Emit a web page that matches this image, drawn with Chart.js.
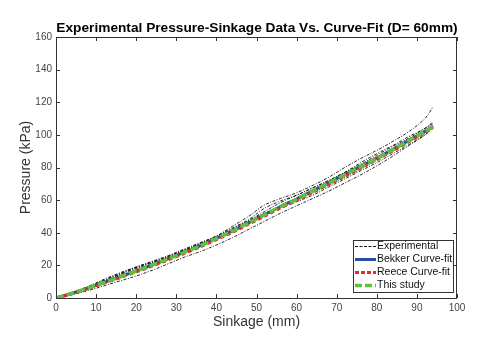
<!DOCTYPE html>
<html>
<head>
<meta charset="utf-8">
<script src="https://cdn.jsdelivr.net/npm/chart.js@4"></script>
<style>
  html, body { margin: 0; padding: 0; background: #fff; }
  canvas { display: block; }
</style>
</head>
<body>
<canvas id="chart" width="502" height="341"></canvas>
<script>
// sinkage (mm)
const sinkage = [0, 4, 8, 12, 16, 20, 24, 28, 32, 36, 40, 44, 48, 52, 56, 60, 64, 68, 72, 76, 80, 84, 88, 92, 94];

// experimental runs (kPa)
const exp1 = [0, 3.5, 7, 11, 15, 19, 22.5, 26, 30, 34, 38, 44, 50, 57, 61, 64.5, 69, 74, 80, 85.5, 90.5, 96, 102, 110, 117];
const exp2 = [0, 3, 6.5, 10.5, 14.5, 18.5, 22, 25, 29, 33.5, 38, 43, 48, 55, 59.5, 63, 67.5, 72, 77, 83, 88.5, 93.5, 99, 104, 108];
const exp3 = [0, 3.2, 7, 11.5, 15.5, 19, 22, 25.5, 29.5, 33, 37, 42, 46.5, 51, 56, 60, 64.5, 69, 74, 79, 84.5, 90, 95.5, 101, 106];
const exp4 = [0, 2.5, 5.5, 9, 12.5, 16, 19.5, 23.5, 27.5, 31.5, 36, 41, 47, 52, 55.5, 59, 63, 68, 73, 78, 83, 88.5, 94, 100, 104];
const exp5 = [0, 3, 6.5, 10.5, 14.5, 18, 21.5, 25.5, 29.5, 33.5, 37.5, 42.5, 47.5, 53, 58.5, 63, 67.5, 72, 77, 82, 87.5, 93, 98, 104, 107];
const exp6 = [0, 2, 4.5, 7.5, 10.5, 13.5, 17, 21, 25, 28.5, 32.5, 37, 42, 47, 52, 56.5, 61, 65.5, 70.5, 75.5, 81, 87, 93.5, 100, 105];

// curve fits (kPa)
const bekker = [0, 2.9, 6.1, 9.6, 13.1, 16.6, 20.3, 24.1, 28.1, 32.1, 36.6, 41.1, 46.1, 51.1, 56.1, 60.7, 65.7, 70.7, 75.7, 80.7, 85.8, 91.2, 96.7, 102.2, 105.3];
const reece = [0, 2.6, 5.7, 9.1, 12.5, 16, 19.6, 23.4, 27.3, 31.4, 35.8, 40.3, 45.2, 50.2, 55.2, 59.8, 64.7, 69.7, 74.7, 79.7, 84.8, 90.2, 95.8, 101.4, 104.6];
const thisStudy = [0, 2.8, 6, 9.5, 13, 16.5, 20.2, 24, 28, 32, 36.5, 41, 46, 51, 56, 60.5, 65.5, 70.5, 75.5, 80.5, 85.5, 91, 96.5, 102, 105];

const xTicks = [0, 10, 20, 30, 40, 50, 60, 70, 80, 90, 100];
const yTicks = [0, 20, 40, 60, 80, 100, 120, 140, 160];

const titleText = 'Experimental Pressure-Sinkage Data Vs. Curve-Fit (D= 60mm)';
const legendLabels = ['Experimental', 'Bekker Curve-fit', 'Reece Curve-fit', 'This study'];

const FONT = '"Liberation Sans", Arial, Helvetica, sans-serif';

function pts(ys) {
    return sinkage.map((x, i) => ({ x: x, y: ys[i] }));
}

function expSet(ys) {
    return {
        data: pts(ys),
        borderColor: '#111',
        borderWidth: 0.9,
        borderDash: [3, 1.5, 1, 1.5],
        pointRadius: 0,
        tension: 0.35,
        order: 4
    };
}

// title, box with inward ticks, legend
const decor = {
    id: 'decor',
    afterDatasetsDraw(chart) {
        const c = chart.ctx;
        const a = chart.chartArea;
        const xs = chart.scales.x, ys = chart.scales.y;
        c.save();
        c.strokeStyle = '#333';
        c.lineWidth = 1;
        c.strokeRect(a.left + 0.5, a.top + 0.5, a.right - a.left - 1, a.bottom - a.top);
        c.beginPath();
        xTicks.forEach(v => {
            const px = Math.round(xs.getPixelForValue(v)) + 0.5;
            c.moveTo(px, a.bottom); c.lineTo(px, a.bottom - 4);
            c.moveTo(px, a.top); c.lineTo(px, a.top + 4);
        });
        yTicks.forEach(v => {
            const py = Math.round(ys.getPixelForValue(v)) + 0.5;
            c.moveTo(a.left, py); c.lineTo(a.left + 4, py);
            c.moveTo(a.right, py); c.lineTo(a.right - 4, py);
        });
        c.stroke();

        // title
        c.fillStyle = '#000';
        c.font = 'bold 13.7px ' + FONT;
        c.textAlign = 'center';
        c.textBaseline = 'middle';
        c.fillText(titleText, (a.left + a.right) / 2 + 0.5, 28);

        // legend
        const lx = a.right - 104, lw = 100, ly = a.bottom - 58, lh = 52;
        c.fillStyle = '#fff';
        c.fillRect(lx, ly, lw, lh);
        c.strokeStyle = '#333';
        c.strokeRect(lx + 0.5, ly + 0.5, lw, lh);
        const styles = [
            { color: '#111', width: 1, dash: [3, 1.5] },
            { color: '#2a4ea6', width: 3, dash: [] },
            { color: '#e8262b', width: 3, dash: [4, 2] },
            { color: '#5cc23a', width: 3.5, dash: [7, 3] }
        ];
        c.font = '10.5px ' + FONT;
        c.textAlign = 'left';
        legendLabels.forEach((t, i) => {
            const y = ly + 6.5 + i * 13;
            const s = styles[i];
            c.beginPath();
            c.strokeStyle = s.color;
            c.lineWidth = s.width;
            c.setLineDash(s.dash);
            c.moveTo(lx + 2, y);
            c.lineTo(lx + 23, y);
            c.stroke();
            c.setLineDash([]);
            c.fillStyle = '#111';
            c.fillText(t, lx + 24, y);
        });
        c.restore();
    }
};

const ctx = document.getElementById('chart').getContext('2d');
const chart = new Chart(ctx, {
    type: 'line',
    data: {
        datasets: [
            {
                label: legendLabels[3],
                data: pts(thisStudy),
                borderColor: '#5cc23a',
                borderWidth: 3.5,
                borderDash: [8, 3],
                pointRadius: 0,
                tension: 0.3,
                order: 1
            },
            {
                label: legendLabels[2],
                data: pts(reece),
                borderColor: '#e8262b',
                borderWidth: 3,
                borderDash: [4, 3],
                pointRadius: 0,
                tension: 0.3,
                order: 2
            },
            {
                label: legendLabels[1],
                data: pts(bekker),
                borderColor: '#2a4ea6',
                borderWidth: 3,
                pointRadius: 0,
                tension: 0.3,
                order: 3
            },
            expSet(exp1),
            expSet(exp2),
            expSet(exp3),
            expSet(exp4),
            expSet(exp5),
            expSet(exp6)
        ]
    },
    options: {
        responsive: false,
        animation: false,
        devicePixelRatio: 1,
        layout: { padding: { left: 0, right: 45, top: 37, bottom: 0 } },
        plugins: {
            legend: { display: false },
            title: { display: false },
            tooltip: { enabled: false }
        },
        scales: {
            x: {
                type: 'linear',
                min: 0,
                max: 100,
                afterFit(scale) { scale.height = 43; },
                afterBuildTicks(scale) { scale.ticks = xTicks.map(v => ({ value: v })); },
                grid: { display: false, drawTicks: false },
                border: { display: false },
                ticks: { color: '#444', font: { size: 10, family: FONT }, padding: 4, maxRotation: 0 },
                title: { display: true, text: 'Sinkage (mm)', color: '#333', font: { size: 14, family: FONT }, padding: { top: 0, bottom: 10 } }
            },
            y: {
                type: 'linear',
                min: 0,
                max: 160,
                afterFit(scale) { scale.width = 56; },
                afterBuildTicks(scale) { scale.ticks = yTicks.map(v => ({ value: v })); },
                grid: { display: false, drawTicks: false },
                border: { display: false },
                ticks: { color: '#444', font: { size: 10, family: FONT }, padding: 4 },
                title: { display: true, text: 'Pressure (kPa)', color: '#333', font: { size: 14, family: FONT }, padding: { top: 18, bottom: 0 } }
            }
        }
    },
    plugins: [decor]
});
</script>
</body>
</html>
